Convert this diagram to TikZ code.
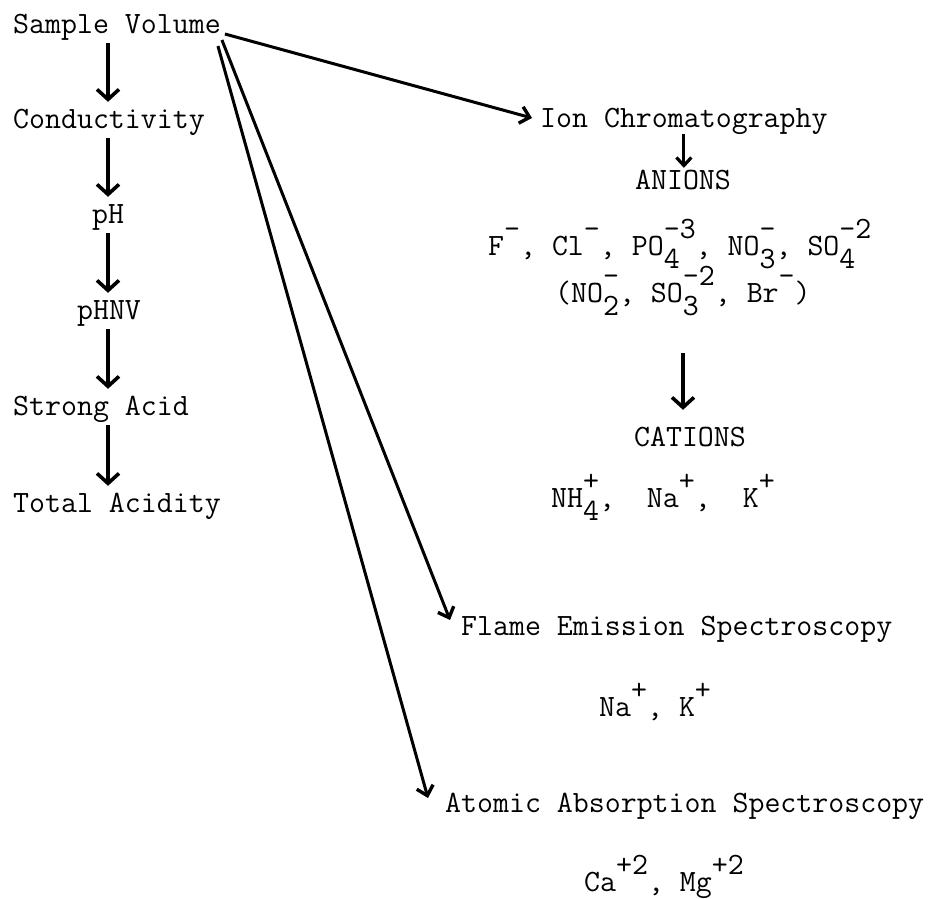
\documentclass[tikz,border=0pt]{standalone}
\usetikzlibrary{arrows.meta,calc}
\newcommand\up[1]{\raisebox{0.52em}{#1}}
\newcommand\dn[1]{\raisebox{-0.42em}{#1}}
\newcommand\ud[2]{\rlap{\up{#2}}\dn{#1}}
\tikzset{
  txt/.style={inner sep=0pt, anchor=base west, text height=20pt, text depth=6pt,
    font=\ttfamily\fontsize{31}{35}\selectfont},
  ctr/.style={txt, anchor=base},
  bigarrow/.style={line width=3.6pt, shorten <=4pt, shorten >=6pt,
    -{Straight Barb[length=10pt,width=22pt,line width=3.6pt]}},
  diag/.style={line width=3pt, -{Straight Barb[length=9pt,width=17pt,line width=3.4pt]}},
  smallarrow/.style={line width=3pt, -{Straight Barb[length=8pt,width=15pt,line width=3.2pt]}}
}
\begin{document}
\begin{tikzpicture}[x=1pt,y=-1pt]
\useasboundingbox (0,0) rectangle (932,898);
% left column
\node[txt] (sv) at (13,33) {Sample Volume};
\node[txt] (cond) at (13,128) {Conductivity};
\node[ctr] (ph) at (108,223) {pH};
\node[ctr] (phnv) at (109,319) {pHNV};
\node[txt] (sa) at (13,415) {Strong Acid};
\node[txt] (ta) at (13,512) {Total Acidity};
\coordinate (lc) at (108,0);
\draw[bigarrow] (sv.south -| lc) -- (cond.north -| lc);
\draw[bigarrow] (cond.south -| lc) -- (ph.north -| lc);
\draw[bigarrow] (ph.south -| lc) -- (phnv.north -| lc);
\draw[bigarrow] (phnv.south -| lc) -- (sa.north -| lc);
\draw[bigarrow] (sa.south -| lc) -- (ta.north -| lc);
% right side
\node[txt] (ion) at (540,127) {Ion Chromatography};
\node[ctr] (anions) at (683,189) {ANIONS};
\node[txt] (an1) at (488,255) {F\up{-}, Cl\up{-}, PO\ud{4}{-}\up{3}, NO\ud{3}{-}, SO\ud{4}{-}\up{2}};
\node[txt] (an2) at (555,302) {(NO\ud{2}{-}, SO\ud{3}{-}\up{2}, Br\up{-})};
\node[ctr] (cations) at (690,446) {CATIONS};
\node[txt] (cat1) at (551,507) {NH\ud{4}{+},~~Na\up{+},~~K\up{+}};
\node[txt] (flame) at (461,635) {Flame Emission Spectroscopy};
\node[txt] (fes) at (599,716) {Na\up{+}, K\up{+}};
\node[txt] (atomic) at (445,812) {Atomic Absorption Spectroscopy};
\node[txt] (aas) at (584,891) {Ca\up{+2}, Mg\up{+2}};
\draw[smallarrow, shorten <=1pt, shorten >=1pt] (ion.south) -- (anions.north -| ion.south);
\coordinate (ax) at (683,0);
\draw[bigarrow, shorten <=45pt, shorten >=16pt] (an2.south -| ax) -- (cations.north -| ax);
% diagonal connectors from Sample Volume
\coordinate (s1) at ($(sv.base east)+(4,1)$);
\coordinate (s2) at ($(sv.base east)+(1,7)$);
\coordinate (s3) at ($(sv.base east)+(-3,13)$);
\draw[diag] (s1) -- ($(ion.base west)+(-8,-9)$);
\draw[diag] (s2) -- ($(flame.base west)+(-11,-15)$);
\draw[diag] (s3) -- ($(atomic.base west)+(-17,-14)$);
\end{tikzpicture}
\end{document}
